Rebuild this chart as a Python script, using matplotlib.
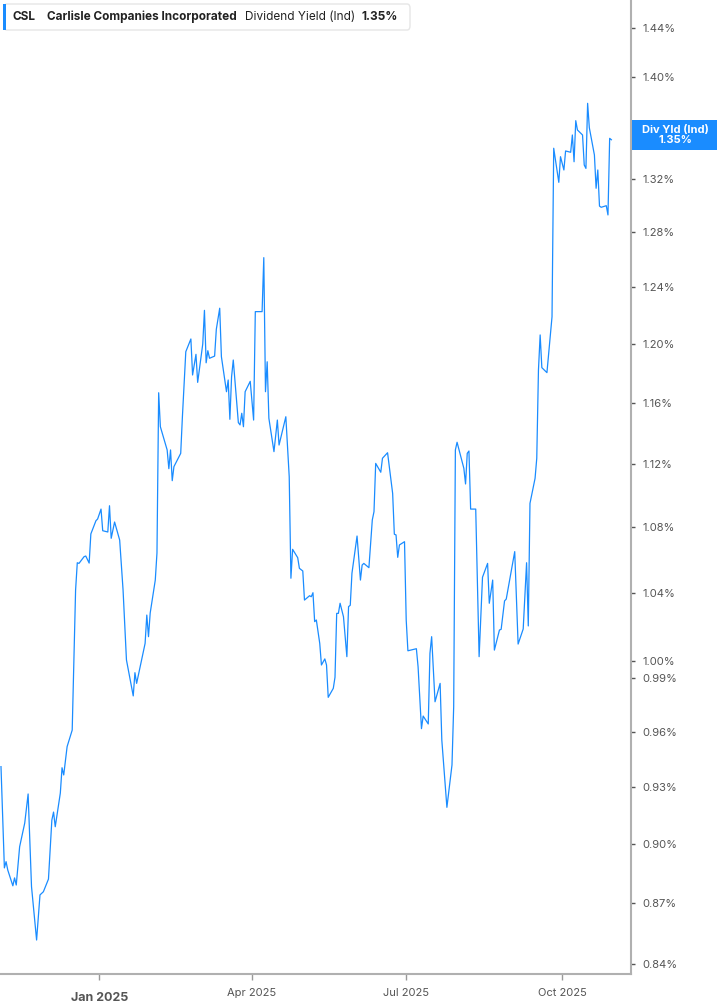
import numpy as np
import pandas as pd
import matplotlib
matplotlib.use('Agg')
import matplotlib.pyplot as plt
import matplotlib.dates as mdates
from matplotlib.patches import FancyBboxPatch, Rectangle
from matplotlib.ticker import FixedLocator, NullLocator, FixedFormatter

# --- data ---
dates = [
    '2024-11-04', '2024-11-06', '2024-11-07', '2024-11-08', '2024-11-11', '2024-11-12', '2024-11-13',
    '2024-11-15', '2024-11-18', '2024-11-20', '2024-11-22', '2024-11-25', '2024-11-27', '2024-11-29',
    '2024-12-02', '2024-12-04', '2024-12-05', '2024-12-06', '2024-12-09', '2024-12-10', '2024-12-11',
    '2024-12-13', '2024-12-16', '2024-12-18', '2024-12-19', '2024-12-20', '2024-12-23', '2024-12-24',
    '2024-12-26', '2024-12-27', '2024-12-30', '2024-12-31', '2025-01-02', '2025-01-03', '2025-01-06',
    '2025-01-07', '2025-01-08', '2025-01-10', '2025-01-13', '2025-01-15', '2025-01-17', '2025-01-21',
    '2025-01-22', '2025-01-23', '2025-01-28', '2025-01-29', '2025-01-30', '2025-01-31', '2025-02-03',
    '2025-02-04', '2025-02-05', '2025-02-06', '2025-02-10', '2025-02-11', '2025-02-12', '2025-02-13',
    '2025-02-14', '2025-02-18', '2025-02-19', '2025-02-21', '2025-02-24', '2025-02-25', '2025-02-27',
    '2025-02-28', '2025-03-03', '2025-03-04', '2025-03-05', '2025-03-06', '2025-03-07', '2025-03-10',
    '2025-03-11', '2025-03-13', '2025-03-14', '2025-03-17', '2025-03-18', '2025-03-19', '2025-03-20',
    '2025-03-21', '2025-03-24', '2025-03-25', '2025-03-26', '2025-03-27', '2025-03-28', '2025-03-31',
    '2025-04-02', '2025-04-03', '2025-04-07', '2025-04-08', '2025-04-09', '2025-04-10', '2025-04-11',
    '2025-04-14', '2025-04-16', '2025-04-17', '2025-04-21', '2025-04-23', '2025-04-24', '2025-04-25',
    '2025-04-28', '2025-04-29', '2025-05-01', '2025-05-02', '2025-05-05', '2025-05-06', '2025-05-07',
    '2025-05-08', '2025-05-09', '2025-05-11', '2025-05-12', '2025-05-14', '2025-05-15', '2025-05-16',
    '2025-05-19', '2025-05-20', '2025-05-21', '2025-05-22', '2025-05-23', '2025-05-25', '2025-05-27',
    '2025-05-28', '2025-05-29', '2025-05-30', '2025-06-02', '2025-06-04', '2025-06-05', '2025-06-06',
    '2025-06-09', '2025-06-11', '2025-06-12', '2025-06-13', '2025-06-16', '2025-06-17', '2025-06-20',
    '2025-06-23', '2025-06-24', '2025-06-25', '2025-06-26', '2025-06-27', '2025-06-30', '2025-07-01',
    '2025-07-02', '2025-07-07', '2025-07-08', '2025-07-10', '2025-07-11', '2025-07-14', '2025-07-15',
    '2025-07-16', '2025-07-18', '2025-07-21', '2025-07-22', '2025-07-25', '2025-07-28', '2025-07-29',
    '2025-07-30', '2025-07-31', '2025-08-04', '2025-08-05', '2025-08-06', '2025-08-07', '2025-08-08',
    '2025-08-11', '2025-08-13', '2025-08-15', '2025-08-18', '2025-08-19', '2025-08-21', '2025-08-22',
    '2025-08-25', '2025-08-26', '2025-08-28', '2025-08-29', '2025-09-03', '2025-09-05', '2025-09-08',
    '2025-09-10', '2025-09-11', '2025-09-12', '2025-09-15', '2025-09-16', '2025-09-17', '2025-09-18',
    '2025-09-19', '2025-09-22', '2025-09-25', '2025-09-26', '2025-09-29', '2025-09-30', '2025-10-02',
    '2025-10-03', '2025-10-06', '2025-10-07', '2025-10-08', '2025-10-09', '2025-10-10', '2025-10-13',
    '2025-10-14', '2025-10-15', '2025-10-16', '2025-10-17', '2025-10-20', '2025-10-21', '2025-10-22',
    '2025-10-23', '2025-10-24', '2025-10-27', '2025-10-28', '2025-10-29', '2025-10-30',
]
div_yield = [
    0.9410, 0.8877, 0.8909, 0.8866, 0.8786, 0.8826, 0.8790,
    0.8986, 0.9109, 0.9263, 0.8782, 0.8516, 0.8740, 0.8756,
    0.8820, 0.9125, 0.9167, 0.9090, 0.9268, 0.9404, 0.9365,
    0.9519, 0.9610, 1.0417, 1.0582, 1.0578, 1.0619, 1.0623,
    1.0580, 1.0759, 1.0841, 1.0852, 1.0914, 1.0779, 1.0771,
    1.0935, 1.0732, 1.0833, 1.0721, 1.0417, 1.0006, 0.9801,
    0.9933, 0.9872, 1.0102, 1.0268, 1.0141, 1.0280, 1.0477,
    1.0642, 1.1670, 1.1444, 1.1292, 1.1171, 1.1292, 1.1094,
    1.1184, 1.1270, 1.1510, 1.1949, 1.2037, 1.1790, 1.1931,
    1.1740, 1.2002, 1.2237, 1.1873, 1.1956, 1.1904, 1.1919,
    1.2104, 1.2252, 1.1915, 1.1677, 1.1756, 1.1493, 1.1778,
    1.1892, 1.1471, 1.1456, 1.1533, 1.1444, 1.1677, 1.1747,
    1.1488, 1.2228, 1.2228, 1.2614, 1.1677, 1.1880, 1.1500,
    1.1281, 1.1488, 1.1324, 1.1510, 1.1119, 1.0488, 1.0664,
    1.0613, 1.0548, 1.0532, 1.0357, 1.0383, 1.0377, 1.0401,
    1.0229, 1.0239, 1.0102, 0.9977, 1.0012, 0.9977, 0.9793,
    0.9844, 0.9907, 1.0278, 1.0278, 1.0338, 1.0258, 1.0025,
    1.0318, 1.0326, 1.0518, 1.0746, 1.0477, 1.0568, 1.0578,
    1.0552, 1.0846, 1.0898, 1.1205, 1.1148, 1.1238, 1.1274,
    1.1013, 1.0757, 1.0753, 1.0615, 1.0691, 1.0711, 1.0239,
    1.0059, 1.0071, 0.9967, 0.9618, 0.9688, 0.9644, 1.0044,
    1.0141, 0.9768, 0.9872, 0.9555, 0.9192, 0.9419, 0.9740,
    1.1292, 1.1342, 1.1173, 1.1073, 1.1270, 1.1285, 1.0914,
    1.0914, 1.0025, 1.0494, 1.0578, 1.0338, 1.0477, 1.0063,
    1.0180, 1.0184, 1.0352, 1.0363, 1.0650, 1.0098, 1.0186,
    1.0582, 1.0204, 1.0950, 1.1109, 1.1238, 1.1824, 1.2065,
    1.1840, 1.1806, 1.2192, 1.3434, 1.3173, 1.3369, 1.3267,
    1.3413, 1.3403, 1.3537, 1.3330, 1.3649, 1.3576, 1.3537,
    1.3305, 1.3279, 1.3786, 1.3594, 1.3382, 1.3128, 1.3267,
    1.2994, 1.2985, 1.2997, 1.2928, 1.3511, 1.3500,
]
y_ticks = [0.84, 0.87, 0.90, 0.93, 0.96, 0.99, 1.00, 1.04, 1.08, 1.12,
           1.16, 1.20, 1.24, 1.28, 1.32, 1.36, 1.40, 1.44]
y_hidden = [1.36]  # sits under the last-value tag
x_ticks = ['2025-01-01', '2025-04-01', '2025-07-01', '2025-10-01']
x_tick_labels = ['Jan 2025', 'Apr 2025', 'Jul 2025', 'Oct 2025']

LINE_BLUE = '#1a8cff'
last_value = div_yield[-1]

plt.rcParams['font.family'] = ['Inter', 'DejaVu Sans']

fig = plt.figure(figsize=(7.17, 10.05), dpi=100)
ax = fig.add_axes([0.0, 31 / 1005, 631 / 717, 974 / 1005])

x = pd.to_datetime(dates)
ax.plot(x, div_yield, color=LINE_BLUE, linewidth=0.9)

ax.set_yscale('log')
ax.set_ylim(0.8351, 1.4631)
ax.set_xlim(pd.Timestamp('2024-11-03 10:00'), pd.Timestamp('2025-11-10 14:00'))

# y axis on the right
ax.yaxis.set_major_locator(FixedLocator(y_ticks))
ax.yaxis.set_minor_locator(NullLocator())
ax.yaxis.set_major_formatter(FixedFormatter(
    ['' if v in y_hidden else f'{v:.2f}%' for v in y_ticks]))
ax.yaxis.tick_right()
ax.tick_params(axis='y', which='major', length=3, width=1, color='#555555',
               labelsize=8, labelcolor='#555555', pad=5)

ax.xaxis.set_major_locator(FixedLocator(mdates.date2num(pd.to_datetime(x_ticks))))
ax.xaxis.set_major_formatter(FixedFormatter(x_tick_labels))
ax.tick_params(axis='x', length=4, width=1, color='#999999',
               labelsize=8, labelcolor='#555555', pad=6)
for lbl in ax.get_xticklabels():
    if lbl.get_text().startswith('Jan'):
        lbl.set_fontweight('bold')
        lbl.set_fontsize(9)
        lbl.set_y(-0.004)

for side in ('top', 'left'):
    ax.spines[side].set_visible(False)
for side in ('right', 'bottom'):
    ax.spines[side].set_color('#b0b0b0')
    ax.spines[side].set_linewidth(1.5)

# --- legend box, top left ---
W, H = 717, 1005
def fx(px):
    return px / W
def fy(py):
    return 1 - py / H

box = FancyBboxPatch((fx(4), fy(30)), fx(406), 26 / H,
                     boxstyle='round,pad=0,rounding_size=0.004',
                     transform=fig.transFigure, facecolor='white',
                     edgecolor='#e6e6e6', linewidth=1.0, zorder=5)
fig.patches.append(box)
fig.patches.append(Rectangle((fx(3), fy(30)), fx(3), 26 / H, transform=fig.transFigure,
                             facecolor=LINE_BLUE, edgecolor='none', zorder=6))
ty = fy(17)
fs = 8.5
fig.text(fx(13), ty, 'CSL', fontsize=fs, fontweight='bold', color='#222222', va='center', zorder=7)
fig.text(fx(47), ty, 'Carlisle Companies Incorporated', fontsize=fs, fontweight='bold',
         color='#222222', va='center', zorder=7)
fig.text(fx(245), ty, 'Dividend Yield (Ind)', fontsize=fs, color='#222222', va='center', zorder=7)
fig.text(fx(362), ty, f'{last_value:.2f}%', fontsize=fs, fontweight='bold',
         color='#222222', va='center', zorder=7)

# --- last-value tag on the right axis ---
fig.patches.append(Rectangle((fx(632), fy(150)), fx(85), 30 / H, transform=fig.transFigure,
                             facecolor=LINE_BLUE, edgecolor='none', zorder=6))
fig.text(fx(675), fy(135), f'Div Yld (Ind)\n{last_value:.2f}%', fontsize=8, fontweight='bold',
         color='white', ha='center', va='center', linespacing=1.1, zorder=7)

fig.savefig('out.png', dpi=100)
plt.close(fig)
